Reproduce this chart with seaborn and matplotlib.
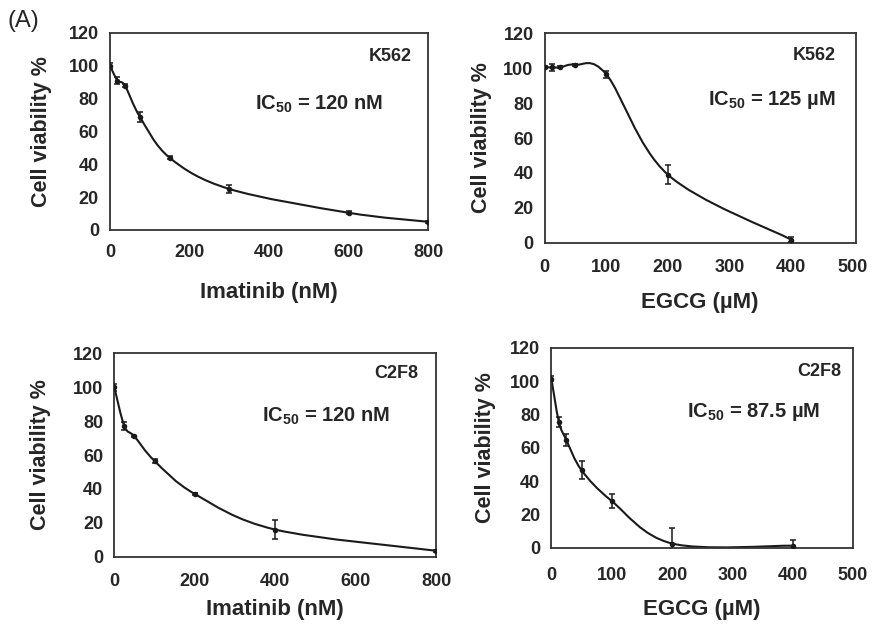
import numpy as np
import matplotlib
matplotlib.use("Agg")
import matplotlib.pyplot as plt
from matplotlib.path import Path
from matplotlib.patches import PathPatch
import seaborn as sns

# K562 / imatinib
k562_ima_x = [0, 18.75, 37.5, 75, 150, 300, 600, 800]
k562_ima_y = [100, 91, 88, 69, 44, 25, 10.5, 5]
k562_ima_err = [2, 2, 1, 3, 1, 2.5, 1, 0.5]

# K562 / EGCG
k562_egcg_x = [0, 12.5, 25, 50, 100, 200, 400]
k562_egcg_y = [100.5, 100.5, 100.5, 102, 96.5, 39, 1.8]
k562_egcg_err = [0.5, 2, 0.5, 0.5, 2, 5.5, 1.5]

# C2F8 / imatinib
c2f8_ima_x = [0, 25, 50, 100, 200, 400, 800]
c2f8_ima_y = [100, 77, 71, 56.5, 37, 16, 3.5]
c2f8_ima_err = [2, 2.5, 0.5, 1, 0.5, 5.5, 0.5]

# C2F8 / EGCG
c2f8_egcg_x = [0, 12.5, 25, 50, 100, 200, 400]
c2f8_egcg_y = [101.5, 75.5, 64.5, 46.5, 28, 2.5, 1.2]
c2f8_egcg_err = [1.5, 3, 3.5, 5.5, 4, 9.5, 3.5]

sns.set_style("white")
plt.rcParams["font.family"] = ["Liberation Sans", "DejaVu Sans"]
plt.rcParams["font.weight"] = "bold"
plt.rcParams["mathtext.fontset"] = "custom"
plt.rcParams["mathtext.rm"] = "Liberation Sans:bold"
plt.rcParams["mathtext.it"] = "Liberation Sans:bold"
plt.rcParams["mathtext.bf"] = "Liberation Sans:bold"

ink = "#1a1a1a"


def smooth_curve(ax, x, y):
    # Excel-like smoothed line: cubic Bezier segments through the data points
    pts = np.column_stack([x, y]).astype(float)
    n = len(pts)
    verts = [pts[0]]
    codes = [Path.MOVETO]
    for i in range(n - 1):
        p0 = pts[max(i - 1, 0)]
        p1 = pts[i]
        p2 = pts[i + 1]
        p3 = pts[min(i + 2, n - 1)]
        verts += [p1 + (p2 - p0) / 6, p2 - (p3 - p1) / 6, p2]
        codes += [Path.CURVE4] * 3
    ax.add_patch(PathPatch(Path(verts, codes), fill=False, lw=1.5, ec=ink, zorder=2))


def panel(rect, x, y, err, xlim, xticks, xlabel, cell, ic_text, cell_pos, ic_pos,
          xpad=11, xlabpad=18, ylabpad=10):
    ax = fig.add_axes(rect)
    smooth_curve(ax, x, y)
    ax.errorbar(x, y, yerr=err, fmt="none", ecolor=ink, elinewidth=1.1,
                capsize=2.5, capthick=1.1, zorder=3)
    sns.scatterplot(x=x, y=y, ax=ax, color=ink, s=16, edgecolor=ink,
                    linewidth=0, zorder=4, legend=False)
    ax.set_xlim(*xlim)
    ax.set_ylim(0, 120)
    ax.set_xticks(xticks)
    ax.set_yticks(range(0, 121, 20))
    ax.xaxis.set_minor_locator(matplotlib.ticker.MultipleLocator(100))
    ax.tick_params(axis="both", which="both", direction="in", length=4,
                   width=1, color="#444444", labelsize=13)
    ax.tick_params(axis="x", pad=xpad)
    ax.tick_params(axis="y", pad=8)
    for lab in ax.get_xticklabels() + ax.get_yticklabels():
        lab.set_fontweight("bold")
    for sp in ax.spines.values():
        sp.set_visible(True)
        sp.set_linewidth(1.3)
        sp.set_color("#333333")
    ax.set_xlabel(xlabel, fontsize=16, fontweight="bold", labelpad=xlabpad)
    ax.set_ylabel("Cell viability %", fontsize=15.5, fontweight="bold", labelpad=ylabpad)
    ax.text(cell_pos[0], cell_pos[1], cell, transform=ax.transAxes, ha="right",
            va="center", fontsize=13, fontweight="bold")
    ax.text(ic_pos[0], ic_pos[1], ic_text, transform=ax.transAxes, ha="right",
            va="center", fontsize=14.5, fontweight="bold")
    return ax


fig = plt.figure(figsize=(8.76, 6.27), dpi=100)

panel([0.1256, 0.6332, 0.3630, 0.3142], k562_ima_x, k562_ima_y, k562_ima_err,
      (0, 800), range(0, 801, 200), "Imatinib (nM)", "K562",
      "IC$_{50}$ = 120 nM", (0.95, 0.883), (0.858, 0.64),
      xpad=10, xlabpad=15, ylabpad=12)
panel([0.6218, 0.6129, 0.3550, 0.3340], k562_egcg_x, k562_egcg_y, k562_egcg_err,
      (0, 505), range(0, 501, 100), "EGCG (µM)", "K562",
      "IC$_{50}$ = 125 µM", (0.936, 0.892), (0.936, 0.681),
      xpad=12, xlabpad=11, ylabpad=8)
panel([0.1305, 0.1121, 0.3676, 0.3244], c2f8_ima_x, c2f8_ima_y, c2f8_ima_err,
      (0, 800), range(0, 801, 200), "Imatinib (nM)", "C2F8",
      "IC$_{50}$ = 120 nM", (0.943, 0.90), (0.856, 0.688),
      xpad=12, xlabpad=6, ylabpad=16)
panel([0.6294, 0.1265, 0.3444, 0.3190], c2f8_egcg_x, c2f8_egcg_y, c2f8_egcg_err,
      (0, 500), range(0, 501, 100), "EGCG (µM)", "C2F8",
      "IC$_{50}$ = 87.5 µM", (0.961, 0.88), (0.89, 0.68),
      xpad=14, xlabpad=11, ylabpad=10)

fig.text(0.008, 0.966, "(A)", fontsize=17, fontweight="normal", ha="left", va="center")

fig.savefig("out.png", dpi=100)
